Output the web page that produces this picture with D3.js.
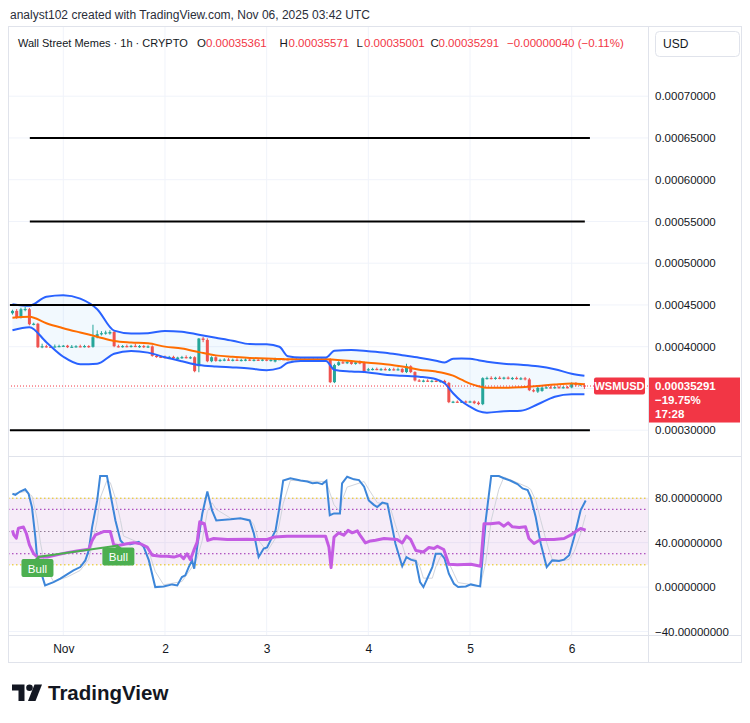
<!DOCTYPE html>
<html>
<head>
<meta charset="utf-8">
<script src="https://cdn.jsdelivr.net/npm/d3@7"></script>
<style>
  body { margin: 0; background: #fff; }
  #container { width: 750px; height: 723px; }
</style>
</head>
<body>
<div id="container"></div>
<script>
// ---- data ----
const startTime = Date.UTC(2025, 9, 31, 12); // first hourly candle, Oct 31 12:00 UTC

// [open, high, low, close] per hour
const candles = [
  [0.0004401,0.0004437,0.0004390,0.0004429],
  [0.0004429,0.0004445,0.0004340,0.0004350],
  [0.0004350,0.0004460,0.0004345,0.0004449],
  [0.0004440,0.0004470,0.0004430,0.0004452],
  [0.0004449,0.0004458,0.0004262,0.0004269],
  [0.0004269,0.0004282,0.0004262,0.0004275],
  [0.0004275,0.0004280,0.0003990,0.0003994],
  [0.0003994,0.0004030,0.0003988,0.0004006],
  [0.0004006,0.0004018,0.0003994,0.0004000],
  [0.0004000,0.0004012,0.0003994,0.0003998],
  [0.0003998,0.0004020,0.0003996,0.0004004],
  [0.0004004,0.0004018,0.0004000,0.0004008],
  [0.0004008,0.0004014,0.0004002,0.0004012],
  [0.0004012,0.0004016,0.0003990,0.0003994],
  [0.0003994,0.0004014,0.0003992,0.0004000],
  [0.0004000,0.0004012,0.0003994,0.0004006],
  [0.0004006,0.0004018,0.0003998,0.0004004],
  [0.0004004,0.0004016,0.0003996,0.0004008],
  [0.0004008,0.0004012,0.0003992,0.0003998],
  [0.0003998,0.0004257,0.0003994,0.0004114],
  [0.0004114,0.0004190,0.0004106,0.0004150],
  [0.0004150,0.0004180,0.0004140,0.0004162],
  [0.0004162,0.0004186,0.0004150,0.0004170],
  [0.0004158,0.0004192,0.0004150,0.0004176],
  [0.0004176,0.0004190,0.0004000,0.0004006],
  [0.0004006,0.0004018,0.0003996,0.0004002],
  [0.0004002,0.0004014,0.0003994,0.0004008],
  [0.0004008,0.0004020,0.0003998,0.0004004],
  [0.0004004,0.0004016,0.0003996,0.0004010],
  [0.0004010,0.0004030,0.0004000,0.0004002],
  [0.0004002,0.0004014,0.0003992,0.0004008],
  [0.0004008,0.0004016,0.0003990,0.0003996],
  [0.0003996,0.0004010,0.0003990,0.0004004],
  [0.0004004,0.0004010,0.0003886,0.0003890],
  [0.0003890,0.0003898,0.0003874,0.0003880],
  [0.0003880,0.0003890,0.0003870,0.0003876],
  [0.0003876,0.0003888,0.0003866,0.0003872],
  [0.0003872,0.0003884,0.0003862,0.0003878],
  [0.0003878,0.0003886,0.0003850,0.0003862],
  [0.0003850,0.0003874,0.0003842,0.0003870],
  [0.0003870,0.0003884,0.0003860,0.0003876],
  [0.0003876,0.0003890,0.0003864,0.0003868],
  [0.0003868,0.0003880,0.0003858,0.0003874],
  [0.0003874,0.0003880,0.0003700,0.0003707],
  [0.0003766,0.0004098,0.0003700,0.0004098],
  [0.0004098,0.0004110,0.0004060,0.0004081],
  [0.0004081,0.0004095,0.0003820,0.0003826],
  [0.0003826,0.0003880,0.0003820,0.0003874],
  [0.0003874,0.0003880,0.0003826,0.0003830],
  [0.0003830,0.0003850,0.0003826,0.0003842],
  [0.0003842,0.0003856,0.0003832,0.0003846],
  [0.0003846,0.0003858,0.0003836,0.0003840],
  [0.0003840,0.0003852,0.0003830,0.0003844],
  [0.0003844,0.0003856,0.0003834,0.0003838],
  [0.0003838,0.0003850,0.0003830,0.0003842],
  [0.0003842,0.0003854,0.0003832,0.0003846],
  [0.0003846,0.0003852,0.0003834,0.0003838],
  [0.0003838,0.0003850,0.0003830,0.0003844],
  [0.0003844,0.0003856,0.0003836,0.0003840],
  [0.0003840,0.0003852,0.0003832,0.0003846],
  [0.0003846,0.0003850,0.0003832,0.0003836],
  [0.0003836,0.0003848,0.0003828,0.0003842],
  [0.0003822,0.0003862,0.0003818,0.0003860],
  [0.0003850,0.0003856,0.0003846,0.0003852],
  [0.0003852,0.0003856,0.0003848,0.0003850],
  [0.0003850,0.0003854,0.0003846,0.0003848],
  [0.0003848,0.0003854,0.0003844,0.0003852],
  [0.0003852,0.0003856,0.0003848,0.0003850],
  [0.0003850,0.0003854,0.0003846,0.0003851],
  [0.0003851,0.0003855,0.0003847,0.0003849],
  [0.0003849,0.0003853,0.0003845,0.0003852],
  [0.0003852,0.0003856,0.0003848,0.0003850],
  [0.0003850,0.0003854,0.0003846,0.0003848],
  [0.0003848,0.0003853,0.0003845,0.0003851],
  [0.0003851,0.0003856,0.0003847,0.0003850],
  [0.0003850,0.0003856,0.0003570,0.0003575],
  [0.0003575,0.0003790,0.0003570,0.0003780],
  [0.0003780,0.0003820,0.0003775,0.0003814],
  [0.0003814,0.0003826,0.0003800,0.0003804],
  [0.0003804,0.0003822,0.0003798,0.0003816],
  [0.0003816,0.0003830,0.0003790,0.0003794],
  [0.0003794,0.0003820,0.0003790,0.0003812],
  [0.0003812,0.0003828,0.0003796,0.0003800],
  [0.0003810,0.0003816,0.0003690,0.0003695],
  [0.0003720,0.0003740,0.0003712,0.0003730],
  [0.0003730,0.0003742,0.0003722,0.0003734],
  [0.0003734,0.0003744,0.0003724,0.0003728],
  [0.0003728,0.0003740,0.0003718,0.0003732],
  [0.0003732,0.0003744,0.0003722,0.0003726],
  [0.0003726,0.0003738,0.0003716,0.0003730],
  [0.0003730,0.0003742,0.0003720,0.0003726],
  [0.0003726,0.0003744,0.0003720,0.0003730],
  [0.0003734,0.0003740,0.0003692,0.0003696],
  [0.0003696,0.0003790,0.0003690,0.0003766],
  [0.0003766,0.0003772,0.0003690,0.0003696],
  [0.0003696,0.0003700,0.0003590,0.0003596],
  [0.0003596,0.0003606,0.0003584,0.0003588],
  [0.0003588,0.0003600,0.0003580,0.0003594],
  [0.0003594,0.0003604,0.0003584,0.0003586],
  [0.0003586,0.0003598,0.0003578,0.0003592],
  [0.0003592,0.0003604,0.0003582,0.0003584],
  [0.0003584,0.0003596,0.0003576,0.0003590],
  [0.0003590,0.0003598,0.0003560,0.0003566],
  [0.0003566,0.0003572,0.0003330,0.0003336],
  [0.0003336,0.0003346,0.0003330,0.0003342],
  [0.0003342,0.0003350,0.0003334,0.0003338],
  [0.0003338,0.0003348,0.0003332,0.0003344],
  [0.0003344,0.0003350,0.0003336,0.0003340],
  [0.0003340,0.0003348,0.0003334,0.0003345],
  [0.0003345,0.0003350,0.0003318,0.0003324],
  [0.0003330,0.0003340,0.0003306,0.0003312],
  [0.0003312,0.0003628,0.0003306,0.0003623],
  [0.0003623,0.0003636,0.0003612,0.0003626],
  [0.0003626,0.0003640,0.0003614,0.0003620],
  [0.0003620,0.0003634,0.0003610,0.0003628],
  [0.0003628,0.0003640,0.0003616,0.0003622],
  [0.0003622,0.0003634,0.0003612,0.0003630],
  [0.0003630,0.0003638,0.0003614,0.0003618],
  [0.0003618,0.0003632,0.0003608,0.0003626],
  [0.0003626,0.0003636,0.0003612,0.0003614],
  [0.0003614,0.0003630,0.0003606,0.0003622],
  [0.0003622,0.0003632,0.0003602,0.0003608],
  [0.0003608,0.0003620,0.0003474,0.0003479],
  [0.0003479,0.0003490,0.0003460,0.0003467],
  [0.0003462,0.0003516,0.0003452,0.0003508],
  [0.0003470,0.0003516,0.0003466,0.0003510],
  [0.0003510,0.0003520,0.0003504,0.0003514],
  [0.0003514,0.0003522,0.0003506,0.0003510],
  [0.0003510,0.0003520,0.0003502,0.0003516],
  [0.0003516,0.0003524,0.0003506,0.0003512],
  [0.0003512,0.0003522,0.0003504,0.0003516],
  [0.0003516,0.0003524,0.0003508,0.0003512],
  [0.0003512,0.0003566,0.0003508,0.0003558],
  [0.0003558,0.0003570,0.0003530,0.0003540],
  [0.0003540,0.0003560,0.0003534,0.0003552],
  [0.00035361,0.00035571,0.00035001,0.00035291]
];

// Bollinger bands, read at these hours
const bbHours = [0,4,8,12,16,20,24,28,32,36,40,44,48,52,56,60,63,65,68,72,74,76,80,84,88,92,96,100,102,104,106,108,110,112,116,120,124,128,132,135];
const bbUpper = [0.0004509,0.0004491,0.0004599,0.0004617,0.0004575,0.0004449,0.0004192,0.0004158,0.0004162,0.0004189,0.0004180,0.0004144,0.0004108,0.0004072,0.0004031,0.0004028,0.0004000,0.0003886,0.0003871,0.0003871,0.0003871,0.0003952,0.0003960,0.0003946,0.0003928,0.0003898,0.0003868,0.0003832,0.0003811,0.0003856,0.0003858,0.0003856,0.0003838,0.0003820,0.0003796,0.0003784,0.0003766,0.0003731,0.0003677,0.0003653];
const bbMiddle = [0.0004347,0.0004359,0.0004281,0.0004222,0.0004170,0.0004120,0.0004068,0.0004050,0.0004040,0.0004001,0.0003978,0.0003935,0.0003896,0.0003879,0.0003865,0.0003860,0.0003853,0.0003850,0.0003850,0.0003850,0.0003850,0.0003844,0.0003829,0.0003808,0.0003789,0.0003763,0.0003725,0.0003702,0.0003683,0.0003653,0.0003605,0.0003557,0.0003527,0.0003509,0.0003507,0.0003515,0.0003529,0.0003547,0.0003559,0.0003551];
const bbLower = [0.0004198,0.0004234,0.0004054,0.0003880,0.0003790,0.0003796,0.0003916,0.0003949,0.0003929,0.0003874,0.0003826,0.0003781,0.0003763,0.0003752,0.0003739,0.0003719,0.0003743,0.0003808,0.0003830,0.0003830,0.0003830,0.0003722,0.0003704,0.0003692,0.0003665,0.0003653,0.0003641,0.0003611,0.0003563,0.0003443,0.0003347,0.0003281,0.0003228,0.0003210,0.0003228,0.0003234,0.0003311,0.0003401,0.0003431,0.0003431];

// drawn horizontal levels: price, start hour, end hour
const levelPrices = [0.00065, 0.00055, 0.00045, 0.0003];
const levelStart = [4.1, 4.1, -0.6, -0.6];
const levelEnd = [136.3, 135.1, 136.3, 136.3];

// oscillator pane, [hour, value]
const stochK = [[0,84],[0.7,83],[1.8,86],[3,88],[3.8,84],[4.6,72],[5.4,45],[5.8,27],[6.6,15],[7.7,1.5],[9.7,4.5],[11.3,7.6],[12.9,11.5],[14.4,15],[16,18],[17.2,24],[18,33],[18.8,54],[20,78],[20.7,100],[22.3,100],[23.1,84],[24.3,60],[25.5,42],[26.2,39],[27.8,38.6],[29.8,40.6],[31,36],[32.2,24],[33.7,0],[35.7,0.6],[37.7,2.4],[38.9,1.5],[40,9],[40.8,10.6],[41.6,18],[42.4,24],[42.9,16.6],[43.6,36],[44.8,66],[46,86],[47.1,69],[48.1,60],[51.5,61],[53.8,62],[56,60],[57,48],[58.1,27],[59.3,34.7],[60.1,35.6],[61.3,45],[62.1,51],[62.9,69],[63.9,96],[65.6,98],[68,96],[69.6,95],[70.8,93.4],[71.9,94],[73.1,92.7],[74.1,95.7],[74.9,64.7],[75.9,66.3],[77.3,66.3],[77.8,93.4],[79,99.3],[80.6,97],[81.8,96.3],[83,90.3],[84.1,78],[85.3,74],[86.1,72],[87.3,76],[88.5,75],[89.3,60],[90.4,39],[92,18.7],[93,27],[94,24.7],[95.2,23.5],[96.2,4.5],[97,0],[97.9,7.6],[99.1,18],[99.9,30],[101.1,30],[102,25.6],[103,12],[104.2,3],[105.2,0],[107,0.6],[108.2,2.4],[109.3,1.5],[110.4,0.6],[111.7,60],[113,100],[114.8,100],[116,98],[117.6,95.7],[119.2,92.7],[120.4,88.8],[121.6,87.3],[122.3,81.3],[123.5,63],[124.7,39],[126.1,18],[127.4,24],[129,23.5],[130.2,24.7],[131.4,28.6],[132.6,45],[134.1,69],[135.3,78]];
const stochD = [[0,84],[3,86],[4.6,82],[5.8,62],[6.6,40],[7.7,18],[9.7,5],[12.9,9],[16,15],[18,25],[18.8,38],[20,60],[20.7,80],[22.3,96],[23.1,94],[24.3,80],[25.5,60],[26.2,46],[29.8,40],[31,38],[32.2,32],[33.7,14],[35.7,2],[40,5],[42.4,18],[43.6,26],[44.8,42],[46,68],[47.1,76],[48.1,70],[51.5,62],[56,61],[57,56],[58.1,42],[60.1,32],[62.1,44],[62.9,55],[63.9,75],[65.6,96],[74.1,95],[74.9,85],[75.9,74],[77.3,68],[77.8,78],[79,90],[83,95],[84.1,88],[86.1,76],[88.5,74],[89.3,70],[90.4,56],[92,38],[93,26],[95.2,25],[96.2,18],[97,8],[99.1,8],[99.9,18],[101.1,28],[102,28],[103,22],[104.2,12],[105.2,4],[110.4,1],[111.7,22],[113,60],[114.8,88],[116,99],[121.6,90],[122.3,88],[123.5,78],[124.7,60],[126.1,40],[127.4,25],[130.2,24],[131.4,25],[132.6,32],[134.1,48],[135.3,65]];
const rsi = [[0,51],[0.3,47],[0.9,44],[1.4,53],[2.6,54],[3.3,48],[4,38],[5,30],[5.9,27],[8.2,27],[10.5,29],[12.9,31],[15.2,32.5],[18,34],[18.8,42],[19.6,47],[21.5,50],[23.1,50],[23.9,38],[25,37.5],[27,39],[28.6,40],[30.2,39],[31.8,36],[33,28.6],[35,27.7],[36.5,27.7],[38.1,27],[39.6,28.6],[40.4,25.6],[41.2,30],[42,24.7],[42.8,33],[43.6,40.6],[44.2,58.7],[45.3,57],[46.1,42],[47.5,43.7],[50.7,42.8],[55.4,43],[57.8,42.8],[60.1,42.8],[61.7,45],[64.8,45.8],[71.1,45.8],[73.9,45.8],[74.7,36],[75.2,17.5],[75.9,45],[77,48.8],[78.2,46.7],[79.2,51],[80.2,48.8],[81.4,50.6],[82.2,45.8],[83.3,39.7],[84.5,41.5],[85.7,42.2],[87.7,43.7],[90.8,42.8],[92,39.7],[93,45.8],[94,42.8],[95.2,33],[97,31.6],[98.3,35.6],[99.5,34.7],[100.3,36.7],[101.8,33.8],[103,20.5],[105,20.2],[108.2,20.5],[110.5,18.7],[111.3,57],[112.9,57],[114.9,57.8],[116,54.8],[117,57.8],[118,54.2],[119.6,53.6],[121.1,54.2],[121.9,43.7],[123.1,39.2],[124.7,42.8],[127.8,42.8],[130.2,43.7],[131.7,46.7],[132.9,49.7],[134.1,52.7],[135.3,51.2]];
const bullPivots = [[5.9, 27], [25, 37.5]];

// price grid; the 0.00035 label sits under the last-price tag, so it is not printed
const priceTicks = [0.0003, 0.00035, 0.0004, 0.00045, 0.0005, 0.00055, 0.0006, 0.00065, 0.0007];
const priceLabels = [0.0003, 0.0004, 0.00045, 0.0005, 0.00055, 0.0006, 0.00065, 0.0007];
const oscTicks = [80, 40, 0, -40];
const dayTicks = [1, 2, 3, 4, 5, 6].map(d => new Date(Date.UTC(2025, 10, d)));
const dayLabels = ["Nov", "2", "3", "4", "5", "6"];

const lastPrice = 0.00035291;

// ---- layout ----
const width = 750, height = 723;
const padLeft = 8, plotRight = 648, outerRight = 741;
const paneTop = 26, mainBottom = 456, oscBottom = 635, outerBottom = 662;
const up = "#26a69a", down = "#ef5350", red = "#f23645";
const ink = "#131722", gridColor = "#f0f3fa", borderColor = "#e0e3eb";
const fontFamily = '"Liberation Sans", Arial, sans-serif';

const hourMs = 3600e3;
const tOf = h => new Date(startTime + h * hourMs);

const x = d3.scaleUtc()
  .domain([new Date(Date.UTC(2025, 10, 1)), new Date(Date.UTC(2025, 10, 6))])
  .range([63.3, 571.7]);
const y = d3.scaleLinear().domain([0.0003, 0.0007]).range([430.2, 96.2]);
const yo = d3.scaleLinear().domain([-40, 80]).range([631.5, 498.2]);

const svg = d3.select("#container").append("svg")
  .attr("width", width)
  .attr("height", height)
  .style("font-family", fontFamily);

const defs = svg.append("defs");
defs.append("clipPath").attr("id", "clipMain")
  .append("rect").attr("x", padLeft).attr("y", paneTop).attr("width", plotRight - padLeft).attr("height", mainBottom - paneTop);
defs.append("clipPath").attr("id", "clipOsc")
  .append("rect").attr("x", padLeft).attr("y", mainBottom).attr("width", plotRight - padLeft).attr("height", oscBottom - mainBottom);

// header
svg.append("text")
  .attr("x", 10).attr("y", 19)
  .attr("font-size", 12).attr("fill", "#2a2e39")
  .text("analyst102 created with TradingView.com, Nov 06, 2025 03:42 UTC");

// gridlines
const grid = svg.append("g");
grid.selectAll(".vgrid").data(dayTicks).join("line")
  .attr("x1", d => x(d)).attr("x2", d => x(d))
  .attr("y1", paneTop).attr("y2", oscBottom)
  .attr("stroke", gridColor);
grid.selectAll(".hgrid").data(priceTicks).join("line")
  .attr("x1", padLeft).attr("x2", plotRight)
  .attr("y1", d => y(d)).attr("y2", d => y(d))
  .attr("stroke", gridColor);
grid.selectAll(".ogrid").data(oscTicks).join("line")
  .attr("x1", padLeft).attr("x2", plotRight)
  .attr("y1", d => yo(d)).attr("y2", d => yo(d))
  .attr("stroke", gridColor);

// ---- main pane ----
const main = svg.append("g").attr("clip-path", "url(#clipMain)");

const bb = bbHours.map((h, i) => ({ h, u: bbUpper[i], m: bbMiddle[i], l: bbLower[i] }));
main.append("path")
  .datum(bb)
  .attr("fill", "rgba(33,150,243,0.06)")
  .attr("d", d3.area().curve(d3.curveMonotoneX)
    .x(d => x(tOf(d.h))).y0(d => y(d.l)).y1(d => y(d.u)));

// candles
const bodyW = 3;
const cg = main.append("g");
cg.selectAll("line").data(candles).join("line")
  .attr("x1", (d, i) => x(tOf(i))).attr("x2", (d, i) => x(tOf(i)))
  .attr("y1", d => y(d[1]) - 0.5).attr("y2", d => y(d[2]) + 0.5)
  .attr("stroke", d => d[3] >= d[0] ? up : down)
  .attr("stroke-width", 1);
cg.selectAll("rect").data(candles).join("rect")
  .attr("x", (d, i) => x(tOf(i)) - bodyW / 2)
  .attr("y", d => y(Math.max(d[0], d[3])))
  .attr("width", bodyW)
  .attr("height", d => Math.max(1.2, y(Math.min(d[0], d[3])) - y(Math.max(d[0], d[3]))))
  .attr("fill", d => d[3] >= d[0] ? up : down);

// bands
const bandLine = key => d3.line().curve(d3.curveMonotoneX)
  .x(d => x(tOf(d.h))).y(d => y(d[key]));
main.append("path").datum(bb).attr("fill", "none").attr("stroke", "#ff6d00").attr("stroke-width", 2).attr("d", bandLine("m"));
main.append("path").datum(bb).attr("fill", "none").attr("stroke", "#2962ff").attr("stroke-width", 2).attr("d", bandLine("u"));
main.append("path").datum(bb).attr("fill", "none").attr("stroke", "#2962ff").attr("stroke-width", 2).attr("d", bandLine("l"));

// drawn levels
main.selectAll(".level").data(levelPrices).join("line")
  .attr("x1", (d, i) => x(tOf(levelStart[i])))
  .attr("x2", (d, i) => x(tOf(levelEnd[i])))
  .attr("y1", d => y(d)).attr("y2", d => y(d))
  .attr("stroke", "#000").attr("stroke-width", 2);

// last price line
svg.append("line")
  .attr("x1", padLeft).attr("x2", plotRight)
  .attr("y1", y(lastPrice)).attr("y2", y(lastPrice))
  .attr("stroke", red).attr("stroke-width", 1)
  .attr("stroke-dasharray", "1,2");

// ---- oscillator pane ----
const osc = svg.append("g").attr("clip-path", "url(#clipOsc)");
osc.append("rect")
  .attr("x", padLeft).attr("width", plotRight - padLeft)
  .attr("y", yo(80)).attr("height", yo(20) - yo(80))
  .attr("fill", "rgba(156,39,176,0.09)");

const oscLevels = [
  { v: 80, c: "#e6c100" }, { v: 70, c: "#9c27b0" }, { v: 50, c: "#8d7590" },
  { v: 30, c: "#9c27b0" }, { v: 20, c: "#e6c100" }
];
osc.selectAll(".olevel").data(oscLevels).join("line")
  .attr("x1", padLeft).attr("x2", plotRight)
  .attr("y1", d => yo(d.v)).attr("y2", d => yo(d.v))
  .attr("stroke", d => d.c).attr("stroke-width", 1)
  .attr("stroke-dasharray", "1.5,2.5");

const oscLine = d3.line().x(d => x(tOf(d[0]))).y(d => yo(d[1]));
osc.append("path").datum(stochD).attr("fill", "none").attr("stroke", "#d1d4dc").attr("stroke-width", 1).attr("d", oscLine);
osc.append("path").datum(stochK).attr("fill", "none").attr("stroke", "#3d86d9").attr("stroke-width", 2).attr("d", oscLine);
osc.append("path").datum(rsi).attr("fill", "none").attr("stroke", "#c45ce3").attr("stroke-width", 3).attr("stroke-linejoin", "round").attr("d", oscLine);

// bullish divergence
osc.append("path").datum(bullPivots)
  .attr("fill", "none").attr("stroke", "#4caf50").attr("stroke-width", 2)
  .attr("d", oscLine);
const bull = osc.selectAll(".bull").data(bullPivots).join("g")
  .attr("transform", d => `translate(${x(tOf(d[0]))},${yo(d[1])})`);
bull.append("path").attr("d", "M-4,3 L0,0 L4,3 Z").attr("fill", "#4caf50");
bull.append("rect")
  .attr("x", -16).attr("y", 2).attr("width", 32).attr("height", 18).attr("rx", 2)
  .attr("fill", "#4caf50");
bull.append("text")
  .attr("x", 0).attr("y", 15.5)
  .attr("text-anchor", "middle").attr("font-size", 11.5).attr("fill", "#fff")
  .text("Bull");

// ---- frame ----
const frame = svg.append("g").attr("fill", "none").attr("stroke", borderColor);
frame.append("rect").attr("x", padLeft + 0.5).attr("y", paneTop + 0.5).attr("width", outerRight - padLeft).attr("height", outerBottom - paneTop);
frame.append("line").attr("x1", plotRight + 0.5).attr("x2", plotRight + 0.5).attr("y1", paneTop).attr("y2", outerBottom);
frame.append("line").attr("x1", padLeft).attr("x2", outerRight).attr("y1", mainBottom + 0.5).attr("y2", mainBottom + 0.5);
frame.append("line").attr("x1", padLeft).attr("x2", outerRight).attr("y1", oscBottom + 0.5).attr("y2", oscBottom + 0.5);

// axes
const styleAxis = g => {
  g.select(".domain").remove();
  g.selectAll("text").attr("fill", ink).attr("font-size", 11.5).attr("font-family", fontFamily);
};
svg.append("g")
  .attr("transform", `translate(${plotRight},0)`)
  .call(d3.axisRight(y).tickValues(priceLabels).tickFormat(d3.format(".8f")).tickSize(0).tickPadding(7))
  .call(styleAxis);
svg.append("g")
  .attr("transform", `translate(${plotRight},0)`)
  .call(d3.axisRight(yo).tickValues(oscTicks).tickFormat(d3.format(".8f")).tickSize(0).tickPadding(7))
  .call(styleAxis);
svg.append("g")
  .attr("transform", `translate(0,${oscBottom})`)
  .call(d3.axisBottom(x).tickValues(dayTicks).tickFormat((d, i) => dayLabels[i]).tickSize(0).tickPadding(9))
  .call(styleAxis)
  .call(g => g.selectAll("text").attr("font-size", 12));

// symbol + price labels
const py = y(lastPrice);
svg.append("rect").attr("x", 594).attr("y", py - 8.5).attr("width", 51).attr("height", 17).attr("rx", 2).attr("fill", red);
svg.append("text").attr("x", 619.5).attr("y", py + 4).attr("text-anchor", "middle")
  .attr("font-size", 11).attr("font-weight", "bold").attr("fill", "#fff").text("WSMUSD");
svg.append("rect").attr("x", 649).attr("y", py - 8.5).attr("width", 91).attr("height", 45).attr("fill", red);
const priceLabel = [d3.format(".8f")(lastPrice), "−19.75%", "17:28"];
svg.selectAll(".plabel").data(priceLabel).join("text")
  .attr("x", 655).attr("y", (d, i) => py + 4 + i * 14)
  .attr("font-size", 11.5).attr("font-weight", "bold").attr("fill", "#fff")
  .text(d => d);

// legend row
const legend = [
  { t: "Wall Street Memes · 1h · CRYPTO", x: 18, c: ink, s: 11 },
  { t: "O", x: 197, c: ink }, { t: "0.00035361", x: 206, c: red },
  { t: "H", x: 279.5, c: ink }, { t: "0.00035571", x: 288.5, c: red },
  { t: "L", x: 356.5, c: ink }, { t: "0.00035001", x: 364, c: red },
  { t: "C", x: 430.5, c: ink }, { t: "0.00035291", x: 438.5, c: red },
  { t: "−0.00000040 (−0.11%)", x: 507, c: red }
];
svg.selectAll(".legend").data(legend).join("text")
  .attr("x", d => d.x).attr("y", 46.5)
  .attr("font-size", d => d.s || 11.5).attr("fill", d => d.c)
  .text(d => d.t);

svg.append("rect").attr("x", 655.5).attr("y", 31.5).attr("width", 84).attr("height", 25).attr("rx", 4)
  .attr("fill", "#fff").attr("stroke", borderColor);
svg.append("text").attr("x", 663).attr("y", 48).attr("font-size", 12).attr("fill", ink).text("USD");

// TradingView logo
const logo = svg.append("g").attr("fill", "#131722");
logo.append("path").attr("d", "M12,684.5 H24.5 V701 H18.5 V690.5 H12 Z");
logo.append("circle").attr("cx", 29.5).attr("cy", 687.8).attr("r", 3.3);
logo.append("path").attr("d", "M34.5,684.5 H42 L35.5,701 H28 Z");
svg.append("text").attr("x", 48).attr("y", 700).attr("font-size", 20.5).attr("font-weight", "bold")
  .attr("fill", "#131722").text("TradingView");
</script>
</body>
</html>
